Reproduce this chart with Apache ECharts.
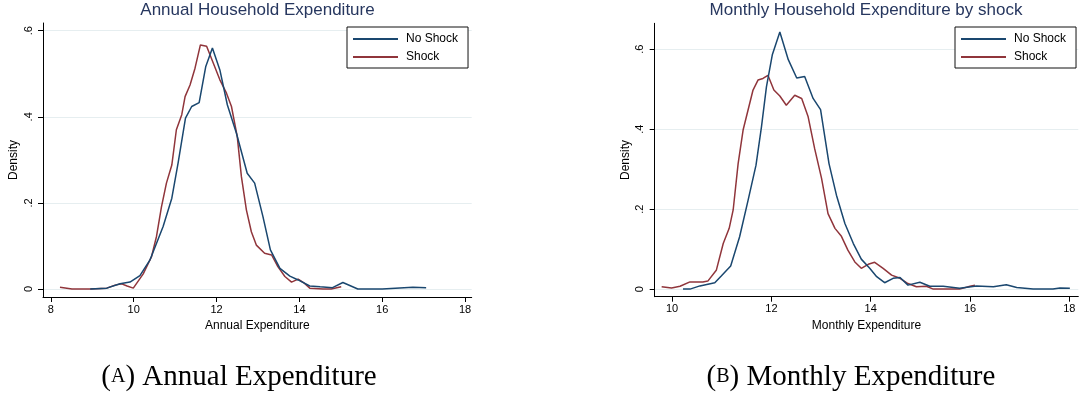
<!DOCTYPE html>
<html>
<head>
<meta charset="utf-8">
<script src="https://cdn.jsdelivr.net/npm/echarts@6/dist/echarts.min.js"></script>
<style>
html,body{margin:0;padding:0;background:#fff;}
#chart{width:1089px;height:403px;}
</style>
</head>
<body>
<div id="chart"></div>
<script>
// ---- Data ----
const annualNoShockX = [8.95,9.35,9.67,9.91,10.15,10.39,10.71,10.92,11.07,11.25,11.40,11.58,11.74,11.90,12.08,12.26,12.48,12.74,12.92,13.12,13.30,13.53,13.77,13.97,14.25,14.50,14.80,15.05,15.41,16.00,16.74,17.06];
const annualNoShockY = [0,0.002,0.012,0.016,0.031,0.067,0.145,0.211,0.292,0.397,0.424,0.433,0.517,0.560,0.509,0.428,0.362,0.269,0.246,0.168,0.091,0.048,0.030,0.021,0.007,0.005,0.003,0.015,0,0,0.004,0.003];

const annualShockX = [8.22,8.51,8.95,9.35,9.55,9.71,9.84,9.99,10.23,10.43,10.55,10.67,10.79,10.92,11.03,11.16,11.24,11.36,11.48,11.61,11.76,11.92,12.08,12.24,12.36,12.50,12.60,12.72,12.84,12.96,13.16,13.33,13.48,13.65,13.81,13.97,14.10,14.25,14.57,14.77,15.01];
const annualShockY = [0.004,0,0,0.002,0.009,0.012,0.007,0.002,0.035,0.075,0.122,0.191,0.246,0.288,0.370,0.405,0.447,0.474,0.513,0.567,0.564,0.525,0.486,0.455,0.424,0.354,0.261,0.184,0.133,0.102,0.083,0.079,0.052,0.029,0.016,0.023,0.015,0.002,0,0,0.005];

const monthlyNoShockX = [10.22,10.36,10.56,10.86,10.99,11.18,11.36,11.53,11.69,11.80,11.90,12.02,12.17,12.34,12.51,12.67,12.84,12.99,13.16,13.31,13.48,13.65,13.81,13.98,14.12,14.28,14.45,14.59,14.75,14.99,15.19,15.46,15.79,16.13,16.47,16.73,16.94,17.27,17.67,17.81,18.01];
const monthlyNoShockY = [0,0,0.008,0.016,0.033,0.058,0.131,0.222,0.310,0.406,0.506,0.587,0.643,0.574,0.528,0.532,0.477,0.449,0.314,0.235,0.164,0.114,0.075,0.052,0.031,0.016,0.027,0.029,0.010,0.017,0.007,0.007,0.002,0.008,0.006,0.011,0.004,0,0,0.003,0.002];

const monthlyShockX = [9.79,9.99,10.16,10.36,10.62,10.72,10.89,11.03,11.15,11.23,11.33,11.43,11.53,11.63,11.73,11.83,11.93,12.05,12.17,12.30,12.47,12.61,12.74,12.87,13.01,13.14,13.28,13.41,13.54,13.68,13.81,13.95,14.08,14.25,14.42,14.59,14.75,14.92,15.12,15.26,15.79,16.00,16.10];
const monthlyShockY = [0.006,0.003,0.007,0.018,0.018,0.020,0.047,0.114,0.152,0.198,0.314,0.398,0.448,0.498,0.523,0.527,0.535,0.498,0.483,0.460,0.485,0.477,0.431,0.352,0.277,0.189,0.152,0.132,0.0975,0.068,0.052,0.062,0.067,0.052,0.035,0.027,0.014,0.006,0.007,0,0,0.007,0.010];

const annualXTicks = [8,10,12,14,16,18];
const monthlyXTicks = [10,12,14,16,18];
const densityTicks = [0,0.2,0.4,0.6];
const seriesNames = ['No Shock','Shock'];

// ---- Build ----
const zip = (xs, ys) => xs.map((x, i) => [x, ys[i]]);
const NAVY = '#1a476f', MAROON = '#90353b';
const FONT = '"Liberation Sans", Arial, sans-serif';
const SERIF = '"Liberation Serif", "Times New Roman", serif';
const densFmt = v => v === 0 ? '0' : String(+v.toFixed(1)).replace(/^0/, '');

function xAxis(gridIndex, min, max, ticks, name) {
  return {
    type: 'value', gridIndex, min, max, name,
    nameLocation: 'middle', nameGap: 20,
    nameTextStyle: {fontFamily: FONT, fontSize: 12, color: '#000'},
    axisLine: {show: true, onZero: false, lineStyle: {color: '#000', width: 1}},
    axisTick: {show: true, length: 5, customValues: ticks, lineStyle: {color: '#000'}},
    axisLabel: {customValues: ticks, margin: 7, fontFamily: FONT, fontSize: 11, color: '#000'},
    splitLine: {show: false}
  };
}
function yAxis(gridIndex, min, max) {
  return {
    type: 'value', gridIndex, min, max, name: 'Density',
    nameLocation: 'middle', nameGap: 23, nameRotate: 90,
    nameTextStyle: {fontFamily: FONT, fontSize: 12, color: '#000'},
    axisLine: {show: true, onZero: false, lineStyle: {color: '#000', width: 1}},
    axisTick: {show: true, length: 5, customValues: densityTicks, lineStyle: {color: '#000'}},
    axisLabel: {customValues: densityTicks, rotate: 90, margin: 9, fontFamily: FONT, fontSize: 11, color: '#000', formatter: densFmt},
    splitLine: {show: true, lineStyle: {color: '#e6eef0', width: 1}}
  };
}
function line(name, xi, yi, data, color) {
  return {
    type: 'line', name, xAxisIndex: xi, yAxisIndex: yi, data,
    showSymbol: false, symbol: 'none', smooth: false,
    lineStyle: {color, width: 1.5}, itemStyle: {color}, silent: true, animation: false, z: color === NAVY ? 3 : 2
  };
}
function legend(left) {
  return {
    orient: 'vertical', left, top: 27, data: seriesNames,
    icon: 'rect', itemWidth: 45, itemHeight: 2, itemGap: 4,
    padding: [5, 10, 4, 6],
    borderColor: '#111', borderWidth: 1, backgroundColor: '#fff',
    textStyle: {fontFamily: FONT, fontSize: 12, color: '#000', lineHeight: 14, padding: [0, 0, 0, 3]},
    selectedMode: false
  };
}
function caption(x, letter, rest) {
  return {type: 'text', x, y: 377, style: {
    text: '{p|(}{s|' + letter + '}{p|) ' + rest + '}', align: 'center', verticalAlign: 'middle',
    rich: {p: {fontFamily: SERIF, fontSize: 29, fill: '#000', color: '#000'},
           s: {fontFamily: SERIF, fontSize: 20, fill: '#000', color: '#000'}}}};
}

const chart = echarts.init(document.getElementById('chart'), null, {renderer: 'canvas'});
chart.setOption({
  backgroundColor: '#fff',
  animation: false,
  grid: [
    {left: 43, top: 23, width: 428.7, height: 274},
    {left: 654.7, top: 23.3, width: 423.6, height: 273.4}
  ],
  xAxis: [
    xAxis(0, 7.81, 18.16, annualXTicks, 'Annual Expenditure'),
    xAxis(1, 9.65, 18.18, monthlyXTicks, 'Monthly Expenditure')
  ],
  yAxis: [
    yAxis(0, -0.0186, 0.618),
    yAxis(1, -0.019, 0.665)
  ],
  legend: [legend(347), legend(955)],
  series: [
    line('No Shock', 0, 0, zip(annualNoShockX, annualNoShockY), NAVY),
    line('Shock', 0, 0, zip(annualShockX, annualShockY), MAROON),
    line('No Shock', 1, 1, zip(monthlyNoShockX, monthlyNoShockY), NAVY),
    line('Shock', 1, 1, zip(monthlyShockX, monthlyShockY), MAROON)
  ],
  graphic: [
    {type: 'text', x: 257.5, y: 10.5, style: {text: 'Annual Household Expenditure', fill: '#27375f', font: '17px ' + FONT, align: 'center', verticalAlign: 'middle'}},
    {type: 'text', x: 866, y: 10.5, style: {text: 'Monthly Household Expenditure by shock', fill: '#27375f', font: '17px ' + FONT, align: 'center', verticalAlign: 'middle'}},
    caption(239, 'A', 'Annual Expenditure'),
    caption(851, 'B', 'Monthly Expenditure')
  ]
});
</script>
</body>
</html>
